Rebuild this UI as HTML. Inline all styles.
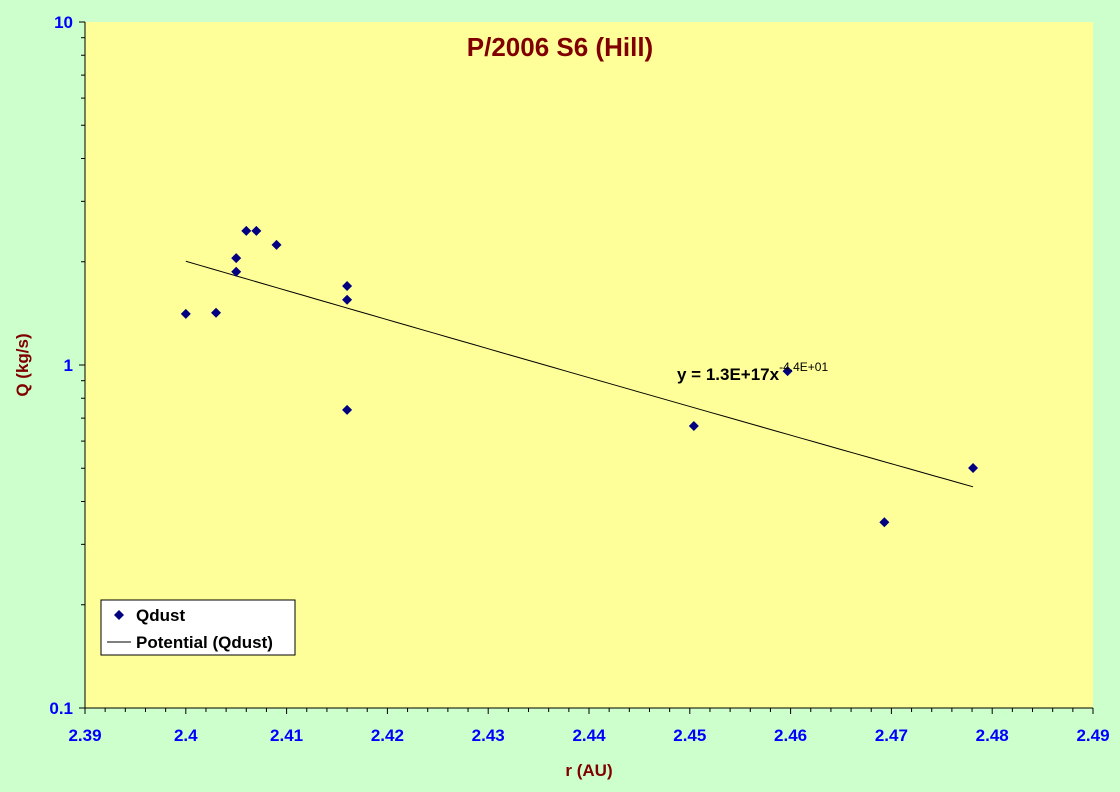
<!DOCTYPE html>
<html><head><meta charset="utf-8"><style>
body{margin:0;background:#CCFFCC;}
svg{display:block;font-family:"Liberation Sans",Arial,sans-serif;font-weight:bold;}
</style></head><body>
<svg id="chart" width="1120" height="792">
<rect x="0" y="0" width="1120" height="792" fill="#CCFFCC"/>
<rect x="85" y="22" width="1008" height="686" fill="#FFFF99"/>
<g id="axes"></g>
<g id="marks"></g>
<text x="560" y="56" text-anchor="middle" font-size="26" fill="#800000">P/2006 S6 (Hill)</text>
<text x="589" y="776" text-anchor="middle" font-size="17" fill="#800000">r (AU)</text>
<text transform="translate(28,365) rotate(-90)" text-anchor="middle" font-size="17" fill="#800000">Q (kg/s)</text>
<text x="677" y="380" font-size="17" fill="#000">y = 1.3E+17x<tspan dy="-9" font-size="12" font-weight="normal">-4.4E+01</tspan></text>
<g>
<rect x="101" y="600" width="194" height="55" fill="#fff" stroke="#000" stroke-width="1"/>
<path d="M119 610 l5 5 l-5 5 l-5 -5z" fill="#000080"/>
<text x="136" y="621" font-size="17">Qdust</text>
<line x1="107" y1="642" x2="131" y2="642" stroke="#000"/>
<text x="136" y="648" font-size="17">Potential (Qdust)</text>
</g>
</svg>
<script>
const xVals=[2.400,2.403,2.405,2.405,2.406,2.407,2.409,2.416,2.416,2.416,2.4504,2.4597,2.4693,2.4781];
const qVals=[1.41,1.42,2.05,1.87,2.46,2.46,2.24,1.70,1.55,0.74,0.664,0.96,0.348,0.501];
const xTicks=[2.39,2.4,2.41,2.42,2.43,2.44,2.45,2.46,2.47,2.48,2.49];
const yTicks=[0.1,1,10];
const NS="http://www.w3.org/2000/svg";
const X0=85,X1=1093,Y0=708,Y1=22;
function sx(v){return X0+(v-2.39)/(2.49-2.39)*(X1-X0);}
function sy(v){return Y0-(Math.log10(v)+1)/2*(Y0-Y1);}
function mk(tag,attrs,parent){const e=document.createElementNS(NS,tag);for(const k in attrs)e.setAttribute(k,attrs[k]);parent.appendChild(e);return e;}
const axes=document.getElementById('axes'),marks=document.getElementById('marks');
let a=mk('line',{x1:X0,y1:Y0,x2:X1,y2:Y0,stroke:'#000'},axes);


a=mk('line',{x1:X0,y1:Y0,x2:X0,y2:Y1,stroke:'#000'},axes);


for(let i=0;i<=50;i++){const x=sx(2.39+i*0.002);const major=i%5===0;
 mk('line',{x1:x,y1:Y0,x2:x,y2:Y0+(major?6:4),stroke:'#000'},axes);}
xTicks.forEach(t=>{const e=mk('text',{x:sx(t),y:741,'text-anchor':'middle','font-size':17,fill:'#0000FF'},axes);
 
 
 e.textContent=String(t);});
for(let d=0.1;d<10;d*=10){for(let m=1;m<10;m++){const y=sy(d*m);mk('line',{x1:X0-(m===1?6:4),y1:y,x2:X0,y2:y,stroke:'#000'},axes);}}
mk('line',{x1:X0-6,y1:Y1,x2:X0,y2:Y1,stroke:'#000'},axes);
yTicks.forEach(t=>{const e=mk('text',{x:X0-12,y:sy(t)+6,'text-anchor':'end','font-size':17,fill:'#0000FF'},axes);
 
 
 e.textContent=String(t);});
// power fit in log-log
let n=xVals.length,sxx=0,sxv=0,syv=0,sxy=0;
for(let i=0;i<n;i++){const lx=Math.log(xVals[i]),ly=Math.log(qVals[i]);sxv+=lx;syv+=ly;sxx+=lx*lx;sxy+=lx*ly;}
const b=(n*sxy-sxv*syv)/(n*sxx-sxv*sxv),la=(syv-b*sxv)/n;
const xmin=Math.min(...xVals),xmax=Math.max(...xVals);
let pts=[];for(let i=0;i<=60;i++){const x=xmin+(xmax-xmin)*i/60;pts.push(sx(x)+','+sy(Math.exp(la+b*Math.log(x))));}
const tl=mk('polyline',{points:pts.join(' '),fill:'none',stroke:'#000','stroke-width':1},marks);


xVals.forEach((x,i)=>{const cx=sx(x),cy=sy(qVals[i]);
 const p=mk('path',{d:`M${cx} ${cy-5} L${cx+5} ${cy} L${cx} ${cy+5} L${cx-5} ${cy}Z`,fill:'#000080'},marks);
 
 });
</script>
</body></html>
